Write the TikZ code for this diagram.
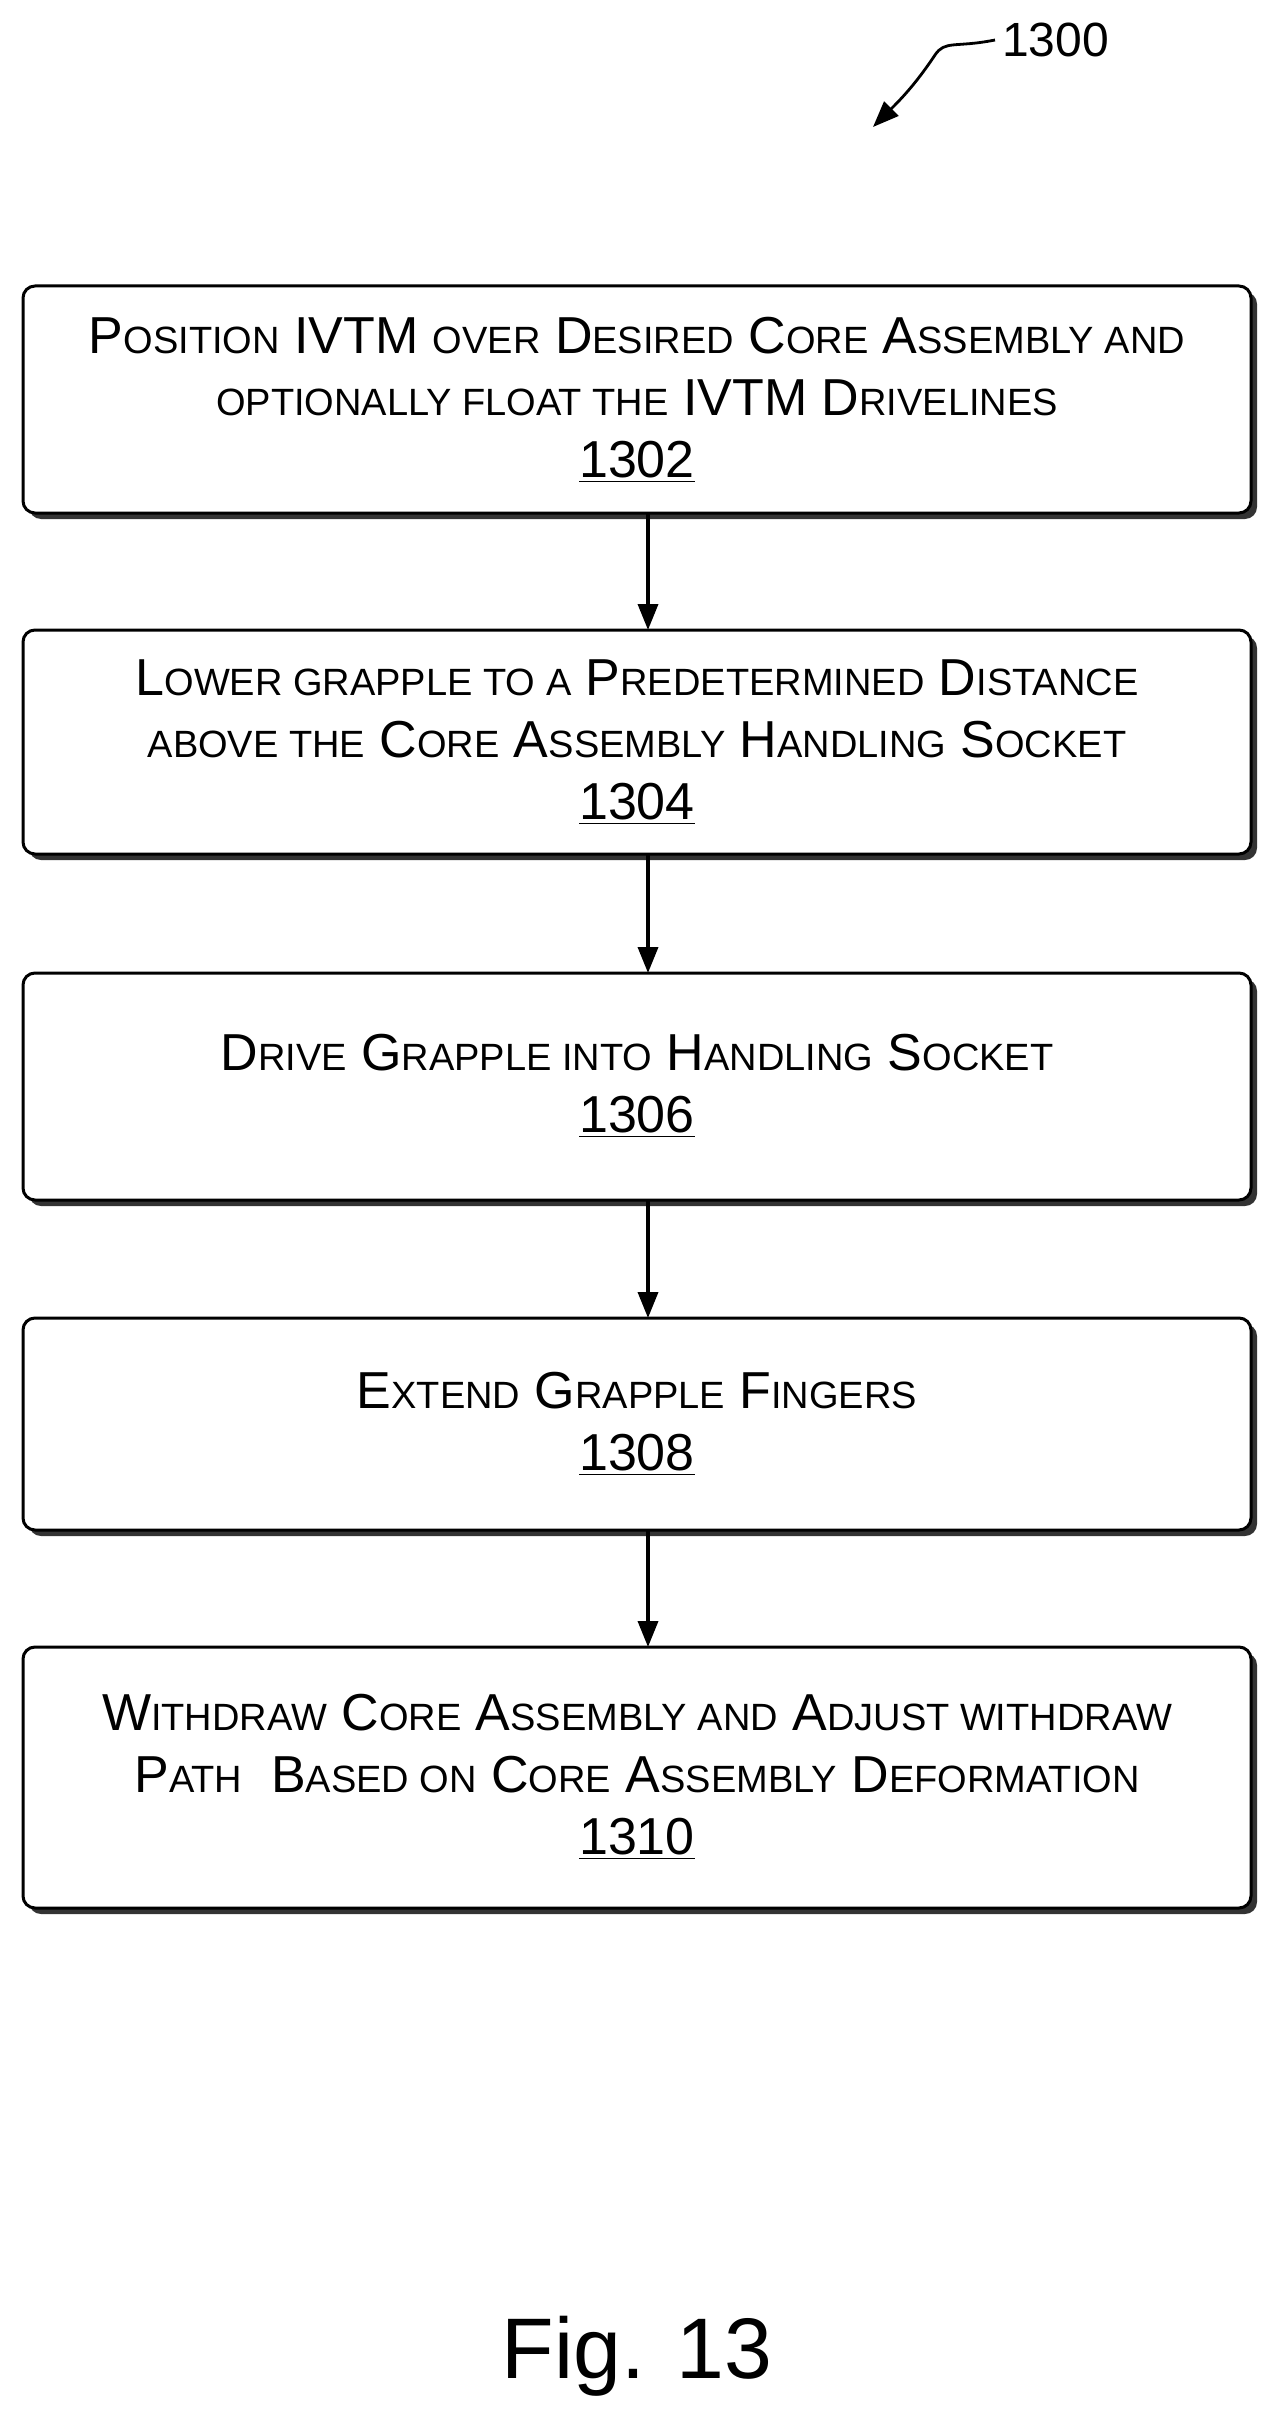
\documentclass[tikz,border=0pt]{standalone}
\usepackage{fontspec}
\usetikzlibrary{arrows.meta}
\setmainfont{Liberation Sans}
\newcommand\sm[1]{{\fontsize{19}{31}\selectfont #1}}
\newcommand\num[1]{\underline{#1}}
\begin{document}
\begin{tikzpicture}[x=0.5pt,y=-0.5pt,
  stepbox/.style={draw=black,line width=1.5pt,rounded corners=6pt,fill=white},
  shadowbox/.style={fill=black!80,rounded corners=6pt},
  txt/.style={align=center,font=\fontsize{26}{31}\selectfont,inner sep=0pt},
  arr/.style={-{Triangle[length=13pt,width=10pt]},line width=1.8pt}]
\useasboundingbox (0,0) rectangle (1279,2423);
\foreach \n/\t/\b in {a/286/513,b/630/854,c/973/1200,d/1318/1530,e/1647/1908}{
  \fill[shadowbox] (29,\t+6) rectangle (1257,\b+6);
  \draw[stepbox] (23,\t) rectangle (1251,\b);
  \coordinate (\n t) at (648,\t);
  \coordinate (\n b) at (648,\b);
}
\node[txt] (ta) at (637,400) {P\sm{OSITION} IVTM \sm{OVER} D\sm{ESIRED} C\sm{ORE} A\sm{SSEMBLY AND}\\ \sm{OPTIONALLY FLOAT THE} IVTM D\sm{RIVELINES}\\ \num{1302}};
\node[txt] (tb) at (637,742) {L\sm{OWER GRAPPLE TO A} P\sm{REDETERMINED} D\sm{ISTANCE}\\ \sm{ABOVE THE} C\sm{ORE} A\sm{SSEMBLY} H\sm{ANDLING} S\sm{OCKET}\\ \num{1304}};
\node[txt] (tc) at (637,1086) {D\sm{RIVE} G\sm{RAPPLE INTO} H\sm{ANDLING} S\sm{OCKET}\\ \num{1306}};
\node[txt] (td) at (637,1424) {E\sm{XTEND} G\sm{RAPPLE} F\sm{INGERS}\\ \num{1308}};
\node[txt] (te) at (637,1777) {W\sm{ITHDRAW} C\sm{ORE} A\sm{SSEMBLY AND} A\sm{DJUST WITHDRAW}\\ P\sm{ATH}\ \ B\sm{ASED ON} C\sm{ORE} A\sm{SSEMBLY} D\sm{EFORMATION}\\ \num{1310}};
\draw[arr] (ab) -- (bt);
\draw[arr] (bb) -- (ct);
\draw[arr] (cb) -- (dt);
\draw[arr] (db) -- (et);
\node[font=\fontsize{24}{28}\selectfont,anchor=west] (lbl) at (995,40) {1300};
\coordinate (tip) at (873,127);
\draw[arr,line width=1.4pt] (lbl.west) .. controls (955,48) and (945,40) .. (935,55) .. controls (915,85) and (900,100) .. (tip);
\node[font=\fontsize{43}{50}\selectfont] (fig) at (637,2356) {Fig. 13};
\end{tikzpicture}
\end{document}
